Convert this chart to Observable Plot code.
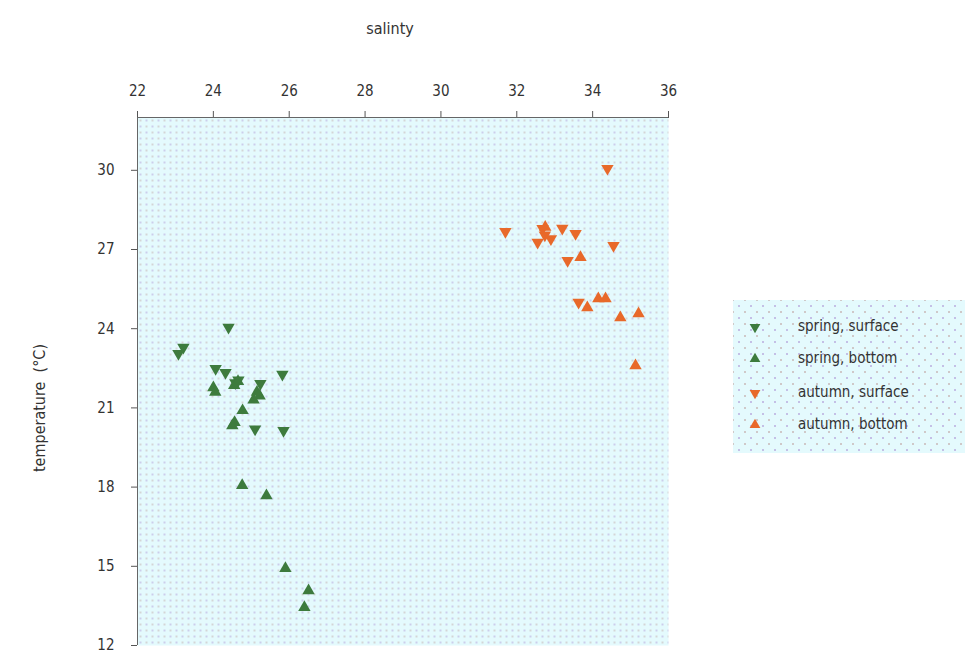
<!DOCTYPE html>
<html>
<head>
<meta charset="utf-8">
<script src="https://cdn.jsdelivr.net/npm/d3@7"></script>
<script src="https://cdn.jsdelivr.net/npm/@observablehq/plot@0.6"></script>
<style>
  html, body { margin: 0; padding: 0; background: #fff; }
  #wrap { position: relative; width: 965px; height: 658px; overflow: hidden; }
  #legend {
    position: absolute; left: 733px; top: 300px; width: 232px; height: 153px;
    background-color: #e4fafd;
    background-image: radial-gradient(circle, #c4c0e6 0.9px, transparent 1.3px),
                      radial-gradient(circle, #cfc9c9 0.9px, transparent 1.3px);
    background-size: 12px 12px, 12px 12px;
    background-position: 0 0, 6px 6px;
    font-family: "Liberation Sans Narrow", "DejaVu Sans Condensed", sans-serif;
    font-size: 15px; color: #333;
  }
  .row { position: absolute; left: 0; height: 20px; line-height: 20px; }
  .row span.lab { position: absolute; left: 65px; white-space: nowrap; }
  .row svg { position: absolute; left: 14px; top: 4px; }
</style>
</head>
<body>
<div id="wrap"></div>
<script>
// ---- data ----
const seriesNames = ["spring, surface", "spring, bottom", "autumn, surface", "autumn, bottom"];
const seriesColors = ["#3d7b3d", "#3d7b3d", "#e8692a", "#e8692a"];
const seriesSymbols = ["down", "up", "down", "up"];

const springSurfaceSalinity = [24.40, 23.21, 23.08, 24.06, 24.32, 24.58, 25.24, 25.82, 25.10, 25.85, 24.66];
const springSurfaceTemp     = [24.05, 23.29, 23.06, 22.49, 22.34, 21.95, 21.92, 22.27, 20.20, 20.14, 22.05];

const springBottomSalinity = [24.00, 24.05, 24.55, 24.65, 25.22, 25.06, 24.77, 24.50, 24.56, 24.76, 25.40, 25.90, 26.51, 26.40, 25.15];
const springBottomTemp     = [21.77, 21.60, 21.85, 22.00, 21.45, 21.30, 20.90, 20.33, 20.45, 18.06, 17.68, 14.92, 14.08, 13.44, 21.60];

const autumnSurfaceSalinity = [34.39, 31.70, 32.68, 32.74, 32.55, 32.90, 33.20, 33.55, 33.34, 34.55, 33.63];
const autumnSurfaceTemp     = [30.07, 27.68, 27.79, 27.55, 27.27, 27.40, 27.80, 27.60, 26.58, 27.15, 25.00];

const autumnBottomSalinity = [33.68, 33.86, 34.15, 34.34, 34.73, 35.21, 35.13, 32.75];
const autumnBottomTemp     = [26.70, 24.80, 25.14, 25.14, 24.42, 24.57, 22.60, 27.85];

const xTicks = [22, 24, 26, 28, 30, 32, 34, 36];
const yTicks = [12, 15, 18, 21, 24, 27, 30];

// ---- build table ----
const groups = [
  [springSurfaceSalinity, springSurfaceTemp],
  [springBottomSalinity, springBottomTemp],
  [autumnSurfaceSalinity, autumnSurfaceTemp],
  [autumnBottomSalinity, autumnBottomTemp]
];
const data = [];
groups.forEach(([xs, ys], i) => xs.forEach((x, j) => data.push({
  salinity: x, temp: ys[j], series: seriesNames[i], dir: seriesSymbols[i]
})));

const font = '"Liberation Sans Narrow", "DejaVu Sans Condensed", sans-serif';

const chart = Plot.plot({
  width: 965,
  height: 658,
  marginLeft: 137,
  marginRight: 297,
  marginTop: 117,
  marginBottom: 13,
  style: { fontFamily: font, fontSize: "15px", color: "#333", background: "transparent" },
  x: { domain: [22, 36], ticks: xTicks, axis: null },
  y: { domain: [12, 32], ticks: yTicks, axis: null },
  color: { domain: seriesNames, range: seriesColors },
  marks: [
    Plot.frame({ fill: "url(#dotpat)", stroke: null }),
    Plot.axisX({ anchor: "top", ticks: xTicks, tickSize: 7, tickPadding: 15, stroke: "#555", label: null, fontSize: 15, fill: "#333" }),
    Plot.axisY({ anchor: "left", ticks: yTicks, tickSize: 6, tickPadding: 17, stroke: "#555", label: null, fontSize: 15, fill: "#333" }),
    Plot.ruleY([32], { stroke: "#666", strokeWidth: 1 }),
    Plot.ruleX([22], { stroke: "#666", strokeWidth: 1 }),
    Plot.dot(data, {
      x: "salinity", y: "temp", fill: "series", stroke: null,
      symbol: "triangle", r: 4.6,
      rotate: d => d.dir === "down" ? 180 : 0
    })
  ]
});

// dotted background pattern
const ns = "http://www.w3.org/2000/svg";
const defs = document.createElementNS(ns, "defs");
defs.innerHTML = `<pattern id="dotpat" patternUnits="userSpaceOnUse" width="12" height="12" x="137" y="117">
  <rect width="12" height="12" fill="#e4fafd"/>
  <circle cx="3" cy="3" r="1" fill="#cfc9c9"/>
  <circle cx="9" cy="3" r="1" fill="#c4c0e6"/>
  <circle cx="3" cy="9" r="1" fill="#c4c0e6"/>
  <circle cx="9" cy="9" r="1" fill="#cfc9c9"/>
</pattern>`;
chart.insertBefore(defs, chart.firstChild);

// axis titles as text inside svg
const xt = document.createElementNS(ns, "text");
xt.setAttribute("x", 390); xt.setAttribute("y", 34);
xt.setAttribute("text-anchor", "middle");
xt.setAttribute("font-size", "16"); xt.setAttribute("fill", "#333");
xt.textContent = "salinty";
chart.appendChild(xt);

const yt = document.createElementNS(ns, "text");
yt.setAttribute("transform", "translate(45,408) rotate(-90)");
yt.setAttribute("text-anchor", "middle");
yt.setAttribute("font-size", "16"); yt.setAttribute("fill", "#333");
yt.textContent = "temperature  (°C)";
chart.appendChild(yt);

const wrap = document.getElementById("wrap");
wrap.appendChild(chart);
chart.style.position = "absolute"; chart.style.left = "0"; chart.style.top = "0";

// legend
const legend = document.createElement("div");
legend.id = "legend";
const rowTops = [16, 48, 82, 114];
seriesNames.forEach((name, i) => {
  const row = document.createElement("div");
  row.className = "row";
  row.style.top = rowTops[i] + "px";
  const rot = seriesSymbols[i] === "down" ? 180 : 0;
  const path = d3.symbol(d3.symbolTriangle, 50)();
  row.innerHTML = `<svg width="16" height="14" viewBox="-8 -7 16 14"><path d="${path}" fill="${seriesColors[i]}" transform="rotate(${rot})"/></svg><span class="lab">${name}</span>`;
  legend.appendChild(row);
});
wrap.appendChild(legend);
</script>
</body>
</html>
